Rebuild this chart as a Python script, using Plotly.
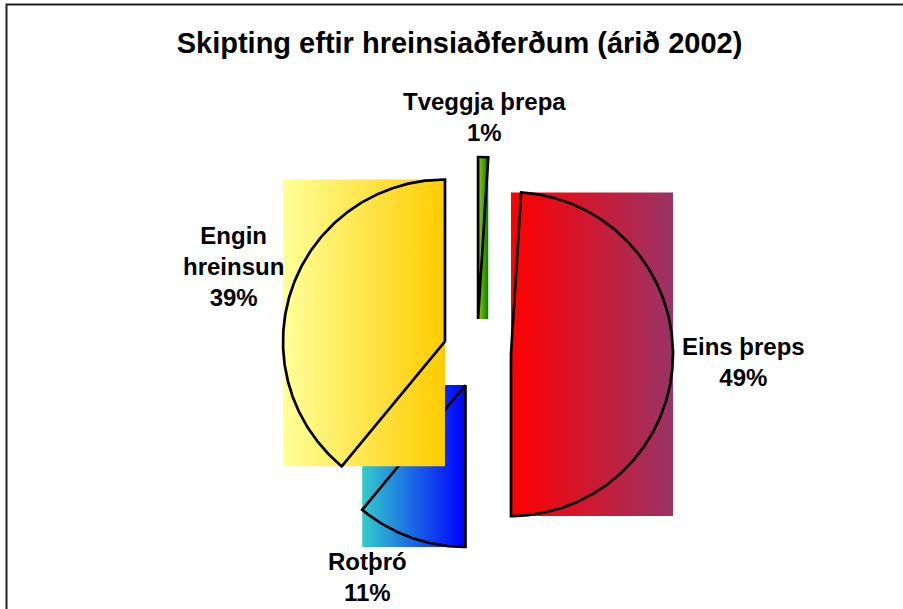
import numpy as np
import plotly.graph_objects as go

# ---- data ----
labels = ["Tveggja þrepa", "Eins þreps", "Rotþró", "Engin hreinsun"]
label_text = ["Tveggja þrepa", "Eins þreps", "Rotþró", "Engin<br>hreinsun"]
percents = [1, 49, 11, 39]
color_left = ["#99CC00", "#FF0000", "#33CCCC", "#FFFF99"]
color_right = ["#008000", "#993366", "#0000FF", "#FFCC00"]
title_text = "Skipting eftir hreinsiaðferðum (árið 2002)"

# ---- geometry (layout) ----
W, H = 903, 609
R_PX = 162.0          # pie radius in pixels
CX_PX, CY_PX = 477.0, 353.0  # pie centre in pixels
PULL = 0.21           # explosion as fraction of radius

x_range = [-CX_PX / R_PX, (W - CX_PX) / R_PX]
y_range = [-(H - CY_PX) / R_PX, CY_PX / R_PX]

fig = go.Figure()
total = float(sum(percents))
start = 0.0
for lab, p, cl, cr in zip(labels, percents, color_left, color_right):
    sweep = 360.0 * p / total
    a0, a1 = start, start + sweep
    mid = np.radians((a0 + a1) / 2)
    cx = PULL * np.sin(mid)
    cy = PULL * np.cos(mid)
    n = max(int(sweep * 2), 4)
    th = np.radians(np.linspace(a0, a1, n))
    wx = np.concatenate([[cx], cx + np.sin(th), [cx]])
    wy = np.concatenate([[cy], cy + np.cos(th), [cy]])
    x0, x1 = wx.min(), wx.max()
    y0, y1 = wy.min(), wy.max()
    # gradient-filled bounding box (as Excel renders it)
    fig.add_trace(go.Scatter(
        x=[x0, x1, x1, x0, x0], y=[y0, y0, y1, y1, y0],
        mode="lines", fill="toself", line=dict(width=0),
        fillgradient=dict(type="horizontal",
                          colorscale=[[0, cl], [1, cr]]),
        hoverinfo="skip", showlegend=False))
    # wedge outline
    fig.add_trace(go.Scatter(
        x=wx, y=wy, mode="lines",
        line=dict(color="black", width=2.7),
        name=lab, hoverinfo="name", showlegend=False))
    start = a1

font_family = "Liberation Sans, Arial, sans-serif"
# label centres in pixels (same order as labels)
label_pos = [(484, 117), (743, 362), (367, 577), (234, 266)]
for txt, p, (px, py) in zip(label_text, percents, label_pos):
    fig.add_annotation(
        x=px / W, y=1 - py / H, xref="paper", yref="paper",
        text=f"<b>{txt}<br>{p}%</b>", showarrow=False,
        xanchor="center", yanchor="middle", align="center",
        font=dict(family=font_family, size=24, color="black"))

fig.add_shape(type="rect", xref="paper", yref="paper",
              x0=6.5 / W, x1=1.05, y0=-0.05, y1=1 - 4.5 / H,
              line=dict(color="#222222", width=2), layer="above")

fig.update_layout(
    width=W, height=H, autosize=False,
    margin=dict(l=0, r=0, t=0, b=0),
    paper_bgcolor="white", plot_bgcolor="white",
    title=dict(text=f"<b>{title_text}</b>", x=459.5 / W, y=1 - 43 / H,
               xanchor="center", yanchor="middle",
               font=dict(family=font_family, size=29, color="black")),
    xaxis=dict(range=x_range, visible=False, fixedrange=True),
    yaxis=dict(range=y_range, visible=False, fixedrange=True),
)

fig.write_html("out.html", config={"displayModeBar": False},
               post_script="document.body.style.margin='0px';")
